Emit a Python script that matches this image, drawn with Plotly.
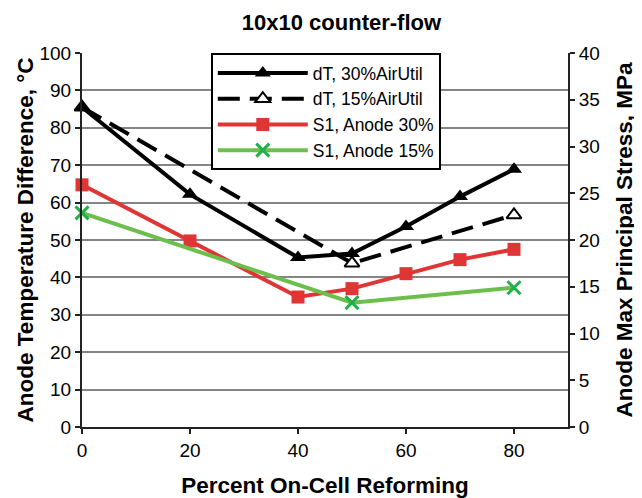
import plotly.graph_objects as go

# Data
x_dt30 = [0, 20, 40, 50, 60, 70, 80]
dt30 = [85.5, 62.2, 45.3, 46.4, 53.6, 61.6, 68.9]

x_dt15 = [0, 50, 80]
dt15 = [85.5, 43.8, 56.7]

x_s30 = [0, 20, 40, 50, 60, 70, 80]
s30 = [25.9, 19.9, 13.9, 14.8, 16.4, 17.9, 19.0]

x_s15 = [0, 50, 80]
s15 = [22.9, 13.3, 14.9]

x_ticks = [0, 20, 40, 60, 80]
left_ticks = list(range(0, 101, 10))
right_ticks = list(range(0, 41, 5))

FONT = "Arial, Liberation Sans, sans-serif"

fig = go.Figure()
fig.add_trace(go.Scatter(
    x=x_dt15, y=dt15, name="dT, 15%AirUtil", mode="lines+markers",
    line=dict(color="black", width=4, dash="22px,10px"), cliponaxis=False,
    legendrank=2,
    marker=dict(symbol="triangle-up", size=13, color="white",
                line=dict(color="black", width=2)),
))
fig.add_trace(go.Scatter(
    x=x_dt30, y=dt30, name="dT, 30%AirUtil", mode="lines+markers",
    line=dict(color="black", width=4), cliponaxis=False,
    legendrank=1,
    marker=dict(symbol="triangle-up", size=14, color="black"),
))
fig.add_trace(go.Scatter(
    x=x_s30, y=s30, name="S1, Anode 30%", mode="lines+markers", yaxis="y2",
    line=dict(color="#e03535", width=4), cliponaxis=False,
    legendrank=3,
    marker=dict(symbol="square", size=13, color="#e03535"),
))
fig.add_trace(go.Scatter(
    x=x_s15, y=s15, name="S1, Anode 15%", mode="lines+markers", yaxis="y2",
    line=dict(color="#6cbf4d", width=4), cliponaxis=False,
    legendrank=4,
    marker=dict(symbol="x-thin", size=13, color="#22b04b",
                line=dict(color="#22b04b", width=3)),
))

# The page body has an 8px margin, so the figure is sized to fill the
# remaining 634x490 area of the 642x498 window.
fig.update_layout(
    width=634, height=490,
    margin=dict(l=74, r=74, t=45, b=71, autoexpand=False),
    paper_bgcolor="white", plot_bgcolor="white",
    font=dict(family=FONT, size=19, color="black"),
    title=dict(text="<b>10x10 counter-flow</b>", x=0.526, xanchor="center",
               xref="container", yref="container",
               y=0.97, yanchor="middle", font=dict(size=22, family=FONT)),
    showlegend=True,
    legend=dict(x=0.265, y=1.0, xanchor="left", yanchor="top",
                bgcolor="white", bordercolor="black", borderwidth=2,
                font=dict(size=17.5, family=FONT), itemwidth=90,
                tracegroupgap=0),
    xaxis=dict(range=[0, 90], tickvals=x_ticks, showgrid=False,
               showline=True, linecolor="#222", linewidth=2,
               ticks="outside", ticklen=5, tickcolor="#222", tickwidth=2,
               zeroline=False, automargin=False,
               title=dict(text="<b>Percent On-Cell Reforming</b>",
                          font=dict(size=22.5, family=FONT), standoff=20)),
    yaxis=dict(range=[0, 100], tickvals=left_ticks, showgrid=True,
               gridcolor="#858585", gridwidth=1.5,
               showline=True, linecolor="#222", linewidth=2,
               ticks="outside", ticklen=5, tickcolor="#222", tickwidth=2,
               zeroline=False, automargin=False,
               title=dict(text="<b>Anode Temperature Difference, °C</b>",
                          font=dict(size=22.5, family=FONT), standoff=0)),
    yaxis2=dict(range=[0, 40], tickvals=right_ticks, overlaying="y",
                side="right", showgrid=False,
                showline=True, linecolor="#222", linewidth=2,
                ticks="outside", ticklen=5, tickcolor="#222", tickwidth=2,
                zeroline=False, automargin=False,
                title=dict(text="<b>Anode Max Principal Stress, MPa</b>",
                           font=dict(size=22.5, family=FONT), standoff=17)),
)

fig.write_html("out.html")
